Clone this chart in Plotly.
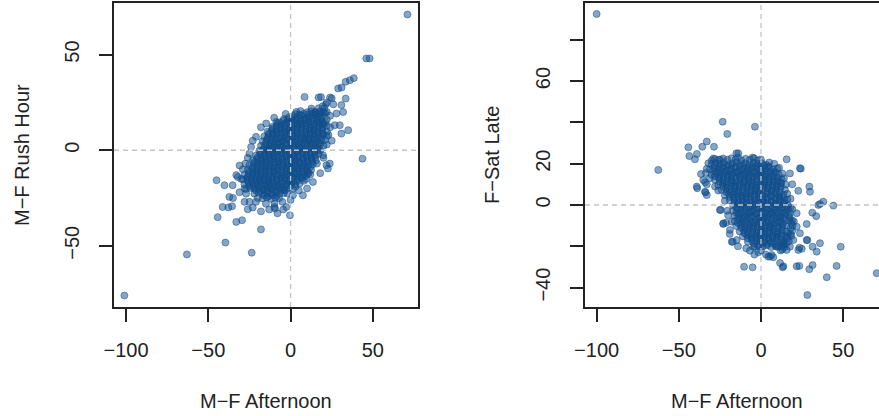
import plotly.graph_objects as go

# values (x = M-F Afternoon for both panels)
# left panel: y = M-F Rush Hour, dense blob read row by row
left_core_x = [
    10, 12.6, 15.1, 17.5, 20,
    -1, 1.6, 4.1, 6.5, 9.1, 11.6, 14.2, 16.7, 19.3,
    -7, -4.4, -1.9, 0.7, 3.2, 5.8, 8.3, 10.9, 13.4, 16, 18.5, 21,
    -11, -8.4, -5.9, -3.3, -0.8, 1.8, 4.3, 6.9, 9.4, 12, 14.5, 17.1, 19.6, 22,
    -14, -11.4, -8.9, -6.3, -3.8, -1.2, 1.3, 3.9, 6.4, 9, 11.5, 14.1, 16.6, 19.2, 22,
    -16, -13.4, -10.9, -8.3, -5.8, -3.2, -0.7, 1.9, 4.4, 7, 9.5, 12.1, 14.6, 17.2, 19.7, 22,
    -17, -14.4, -11.9, -9.3, -6.8, -4.2, -1.7, 0.9, 3.4, 6, 8.5, 11.1, 13.6, 16.2, 18.7, 21,
    -18, -15.4, -12.9, -10.3, -7.8, -5.2, -2.7, -0.1, 2.4, 5, 7.5, 10.1, 12.6, 15.2, 17.7, 20,
    -19, -16.4, -13.9, -11.3, -8.8, -6.2, -3.7, -1.1, 1.4, 4, 6.5, 9.1, 11.6, 14.2, 16.7, 18,
    -21, -18.4, -15.9, -13.3, -10.8, -8.2, -5.7, -3.1, -0.6, 2, 4.5, 7.1, 9.6, 12.2, 14.7, 17,
    -23, -20.4, -17.9, -15.3, -12.8, -10.2, -7.7, -5.1, -2.6, 0, 2.5, 5.1, 7.6, 10.2, 12.7, 15.3,
    -25, -22.4, -19.9, -17.3, -14.8, -12.2, -9.7, -7.1, -4.6, -2, 0.5, 3.1, 5.6, 8.2, 10.7, 13.5,
    -26, -23.4, -20.9, -18.3, -15.8, -13.2, -10.7, -8.1, -5.6, -3, -0.5, 2.1, 4.6, 7.2, 9.7, 12.5,
    -28, -25.4, -22.9, -20.3, -17.8, -15.2, -12.7, -10.1, -7.6, -5, -2.5, 0.1, 2.6, 5.2, 7.7, 10.3, 12,
    -29, -26.4, -23.9, -21.3, -18.8, -16.2, -13.7, -11.1, -8.6, -6, -3.5, -0.9, 1.6, 4.2, 6.7, 9.5,
    -28, -25.4, -22.9, -20.3, -17.8, -15.2, -12.7, -10.1, -7.6, -5, -2.5, 0.1, 2.6, 5.5,
    -27, -24.4, -21.9, -19.3, -16.8, -14.2, -11.7, -9.1, -6.6, -4, -1.5, 1.5,
    -22, -19.4, -16.9, -14.3, -11.8, -9.2, -6.7, -4.1, -2,
    -17, -14.4, -11.9, -9.3, -7,
]
left_core_y = [
    19.8, 20.4, 19.6, 20.2, 19.9,
    17.2, 17.9, 17.4, 18.1, 17, 17.6, 18.2, 17.3, 17.8,
    14.6, 15.4, 14.9, 15.6, 14.5, 15.1, 15.7, 14.8, 15.2, 14.6, 15.5, 14.9,
    12.2, 12.9, 12.4, 13.1, 12, 12.7, 13.2, 12.3, 12.8, 12.1, 12.6, 13, 12.3, 12.8,
    9.7, 10.4, 9.9, 10.6, 9.5, 10.2, 10.7, 9.8, 10.3, 9.6, 10.1, 10.5, 9.7, 10.2, 9.6,
    7.2, 7.9, 7.4, 8.1, 7, 7.6, 8.2, 7.3, 7.8, 7.1, 7.7, 8, 7.2, 7.6, 8.1, 7.4,
    4.7, 5.3, 4.9, 5.6, 4.5, 5.1, 5.7, 4.8, 5.2, 4.6, 5.5, 4.9, 5.4, 4.7, 5.1, 5.4,
    2.3, 2.9, 2.1, 2.7, 3, 2.2, 2.6, 3.1, 2.4, 2.8, 2, 2.6, 3, 2.2, 2.7, 2.4,
    -0.3, 0.4, -0.1, 0.6, -0.5, 0.2, 0.7, -0.2, 0.3, -0.4, 0.5, 0, 0.6, -0.3, 0.2, -0.1,
    -2.8, -2.1, -2.6, -1.9, -3, -2.3, -1.8, -2.7, -2.2, -3.1, -2.4, -1.9, -2.8, -2.2, -2.6, -2,
    -5.2, -4.6, -5.5, -4.8, -5.1, -4.4, -5.6, -4.9, -5.3, -4.5, -5, -5.7, -4.7, -5.2, -4.6, -5.4,
    -7.8, -7.1, -7.6, -7, -8.1, -7.4, -7.9, -7.2, -7.7, -8, -7.3, -7.8, -7.1, -7.6, -8, -7.4,
    -10.2, -9.6, -10.5, -9.8, -10.1, -9.5, -10.6, -9.9, -10.3, -9.7, -10.4, -9.8, -10.2, -9.6, -10.1, -10.3,
    -12.8, -12.2, -12.6, -12, -13, -12.4, -12.9, -12.1, -12.7, -13.1, -12.3, -12.8, -12.2, -12.6, -12.9, -12.3, -12.7,
    -15.2, -14.6, -15.4, -14.8, -15.1, -14.5, -15.6, -14.9, -15.3, -14.7, -15, -15.4, -14.8, -15.2, -14.6, -15.1,
    -17.8, -17.2, -17.6, -17, -18, -17.3, -17.7, -17.1, -17.9, -17.4, -17.6, -17.2, -17.8, -17.4,
    -20.3, -19.7, -20.1, -19.6, -20.4, -19.8, -20.2, -19.5, -20, -20.3, -19.8, -20.1,
    -22.7, -22.1, -22.9, -22.3, -22.6, -22, -22.8, -22.4, -22.6,
    -25.2, -24.6, -25.4, -24.8, -25.1,
]
# second, staggered layer inside the dense blob
left_inner_x = [
    3, 5.5, 8, 10.5, 13, 15.5, 18,
    -4, -1.5, 1, 3.5, 6, 8.5, 11, 13.5, 16, 18.5,
    -8, -5.5, -3, -0.5, 2, 4.5, 7, 9.5, 12, 14.5, 17, 19.5,
    -11, -8.5, -6, -3.5, -1, 1.5, 4, 6.5, 9, 11.5, 14, 16.5, 19,
    -13, -10.5, -8, -5.5, -3, -0.5, 2, 4.5, 7, 9.5, 12, 14.5, 17, 19.5,
    -14, -11.5, -9, -6.5, -4, -1.5, 1, 3.5, 6, 8.5, 11, 13.5, 16, 18.5,
    -15, -12.5, -10, -7.5, -5, -2.5, 0, 2.5, 5, 7.5, 10, 12.5, 15, 17.5,
    -16, -13.5, -11, -8.5, -6, -3.5, -1, 1.5, 4, 6.5, 9, 11.5, 14, 16.5,
    -18, -15.5, -13, -10.5, -8, -5.5, -3, -0.5, 2, 4.5, 7, 9.5, 12, 14.5,
    -20, -17.5, -15, -12.5, -10, -7.5, -5, -2.5, 0, 2.5, 5, 7.5, 10, 12.5, 15,
    -22, -19.5, -17, -14.5, -12, -9.5, -7, -4.5, -2, 0.5, 3, 5.5, 8, 10.5, 13,
    -23, -20.5, -18, -15.5, -13, -10.5, -8, -5.5, -3, -0.5, 2, 4.5, 7, 9.5, 12,
    -25, -22.5, -20, -17.5, -15, -12.5, -10, -7.5, -5, -2.5, 0, 2.5, 5, 7.5, 10,
    -26, -23.5, -21, -18.5, -16, -13.5, -11, -8.5, -6, -3.5, -1, 1.5, 4, 6.5, 9,
    -26, -23.5, -21, -18.5, -16, -13.5, -11, -8.5, -6, -3.5, -1, 1.5, 4,
    -25, -22.5, -20, -17.5, -15, -12.5, -10, -7.5, -5, -2.5, 0,
    -21, -18.5, -16, -13.5, -11, -8.5, -6, -3.5,
    -16, -13.5, -11, -8.5,
]
left_inner_y = [
    18.9, 18.5, 19.1, 18.7, 19.2, 18.6, 18.9,
    16.3, 15.9, 16.5, 16.1, 16.4, 15.8, 16.2, 16.6, 16, 16.3,
    13.9, 13.5, 14.1, 13.7, 14.2, 13.6, 13.9, 14, 13.4, 13.8, 14.1, 13.6,
    11.3, 10.9, 11.5, 11.1, 11.4, 10.8, 11.2, 11.6, 11, 11.3, 10.9, 11.5, 11.1,
    8.9, 8.5, 9.1, 8.7, 9.2, 8.6, 8.9, 9, 8.4, 8.8, 9.1, 8.6, 8.9, 8.7,
    6.3, 5.9, 6.5, 6.1, 6.4, 5.8, 6.2, 6.6, 6, 6.3, 5.9, 6.5, 6.1, 6.2,
    3.9, 3.5, 4.1, 3.7, 4.2, 3.6, 3.9, 4, 3.4, 3.8, 4.1, 3.6, 3.9, 3.7,
    1.3, 0.9, 1.5, 1.1, 1.4, 0.8, 1.2, 1.6, 1, 1.3, 0.9, 1.5, 1.1, 1.2,
    -1.1, -1.5, -0.9, -1.3, -0.8, -1.4, -1.1, -1, -1.6, -1.2, -0.9, -1.4, -1.1, -1.3,
    -3.7, -4.1, -3.5, -3.9, -3.4, -4, -3.7, -3.6, -4.2, -3.8, -3.5, -4, -3.7, -3.9, -3.6,
    -6.1, -6.5, -5.9, -6.3, -5.8, -6.4, -6.1, -6, -6.6, -6.2, -5.9, -6.4, -6.1, -6.3, -6,
    -8.7, -9.1, -8.5, -8.9, -8.4, -9, -8.7, -8.6, -9.2, -8.8, -8.5, -9, -8.7, -8.9, -8.6,
    -11.1, -11.5, -10.9, -11.3, -10.8, -11.4, -11.1, -11, -11.6, -11.2, -10.9, -11.4, -11.1, -11.3, -11,
    -13.7, -14.1, -13.5, -13.9, -13.4, -14, -13.7, -13.6, -14.2, -13.8, -13.5, -14, -13.7, -13.9, -13.6,
    -16.1, -16.5, -15.9, -16.3, -15.8, -16.4, -16.1, -16, -16.6, -16.2, -15.9, -16.4, -16.1,
    -18.7, -19.1, -18.5, -18.9, -18.4, -19, -18.7, -18.6, -19.2, -18.8, -18.5,
    -21.1, -21.5, -20.9, -21.3, -20.8, -21.4, -21.1, -21,
    -23.7, -24.1, -23.5, -23.9,
]
left_edge_x = [
    71, 46, 48, 38.4, 36, 33.5, 31, 28.9, 8.5, 17, 18.5, 24, 25, 33.5, 43.7, 35,
    30.9, 29.9, 31.9, 30.9, 27.9, 26.8, 12.6, 3.5, -8.7, -14.8, -21, -24, -25, -27.4,
    -33, -32.1, -45, -40.2, -35.2, -37.2, -41.3, -44.3, -39.6, -63, -23.6, -18, -33, -29.5,
    -26, -0.4, -101, -37.8, -35.6, -27, -25, -21, -9.8, -9.8, -9.5, -2.6, 7.5, 1.4, 13.6,
    22.7, 23.8, 21.8, 19.7, -30, -28, -31, -20, -23, -15, -5, 3, 8, 11, 16, 20, 22, 23,
    24, 22, 19, 15, 6, -3, -10, -18, -23, -26, -29, -31, 17, 22, 26, 20, 25, 18, -35,
    -28, -18, -13, 0, 5, -8, 10, -4.5, 22, 24, 20.5, 21.5, 21, 19.5,
]
left_edge_y = [
    71, 48, 48, 37.7, 36.6, 35.8, 32.8, 32.3, 27.9, 27.6, 27.8, 27.6, 27.2, 27, -4.4, 10.5,
    8.7, 13.1, 20, 23.6, 19.2, 13.1, 21.8, 20, 14.8, 14, 7, 1.7, -1.7, -7,
    -13, -14, -15.7, -18.3, -18.3, -24.4, -29.7, -35, -48.3, -54.5, -53.6, -41.4, -37.5, -36.6,
    -30.9, -34, -76, -29.9, -29.3, -22.7, -27, -27, -28, -29.7, -30.5, -29.7, -23.6, -23.6, -16.6,
    -9.6, -7, -7.9, -2.6, -15, -20, -22, -25, -30, -28, -27, -19, -16, -12, -7, -4, 3, 8,
    12, 16, 20, 20, 20.5, 19, 17, 12, 5, -4, -10, -8, 22, 25, 24, 14, 5, -12, -25,
    -27, -32, -31, -26, -21, -33, -20, -31, 20, 18, 22, 24, 19.5, 23,
]

# right panel: y = F-Sat Late
right_core_x = [
    -12, -9.4, -6.8, -4.3, -1.9,
    -30, -27.5, -24.9, -22.4, -19.8, -17.3, -14.7, -12.2, -9.6, -7.1, -4.5, -2, 0.6, 3.2, 5,
    -31, -28.4, -25.9, -23.3, -20.8, -18.2, -15.7, -13.1, -10.6, -8, -5.5, -2.9, -0.4, 2.2, 4.7, 7.3, 9.8,
    -30, -27.4, -24.9, -22.3, -19.8, -17.2, -14.7, -12.1, -9.6, -7, -4.5, -1.9, 0.6, 3.2, 5.7, 8.3, 10.8, 13,
    -28, -25.4, -22.9, -20.3, -17.8, -15.2, -12.7, -10.1, -7.6, -5, -2.5, 0.1, 2.6, 5.2, 7.7, 10.3, 12.6, 14,
    -26, -23.4, -20.9, -18.3, -15.8, -13.2, -10.7, -8.1, -5.6, -3, -0.5, 2.1, 4.6, 7.2, 9.7, 12.3, 15,
    -24, -21.4, -18.9, -16.3, -13.8, -11.2, -8.7, -6.1, -3.6, -1, 1.5, 4.1, 6.6, 9.2, 11.7, 14.6,
    -22, -19.5, -16.9, -14.4, -11.8, -9.3, -6.7, -4.2, -1.6, 0.9, 3.5, 6, 8.6, 11.1, 13.7, 16,
    -19, -16.4, -13.9, -11.3, -8.8, -6.2, -3.7, -1.1, 1.4, 4, 6.5, 9.1, 11.6, 14.2, 16,
    -17, -14.5, -11.9, -9.4, -6.8, -4.3, -1.7, 0.8, 3.4, 5.9, 8.5, 11, 13.6, 16.4,
    -17, -14.4, -11.9, -9.3, -6.8, -4.2, -1.7, 0.9, 3.4, 6, 8.5, 11.1, 13.6, 16.5,
    -16, -13.5, -10.9, -8.4, -5.8, -3.3, -0.7, 1.8, 4.4, 6.9, 9.5, 12, 14.6, 17,
    -16, -13.4, -10.9, -8.3, -5.8, -3.2, -0.7, 1.9, 4.4, 7, 9.5, 12.1, 14.6, 17,
    -15, -12.5, -9.9, -7.4, -4.8, -2.3, 0.3, 2.8, 5.4, 7.9, 10.5, 13, 15.6,
    -13, -10.4, -7.9, -5.3, -2.8, -0.2, 2.3, 4.9, 7.4, 10, 12.5, 15.3,
    -11, -8.5, -5.9, -3.4, -0.8, 1.7, 4.3, 6.8, 9.4, 11.9, 14.5, 16,
    -8, -5.4, -2.9, -0.3, 2.2, 4.8, 7.3, 9.9, 12.4, 14,
    -4, -1.4, 1.1, 3.7, 6.2, 8.8, 10.5,
]
right_core_y = [
    21.6, 22.4, 21.9, 22.6, 21.7,
    19.6, 20.3, 19.8, 20.5, 19.5, 20.1, 20.7, 19.7, 20.2, 19.6, 20.4, 19.9, 20.2, 19.5, 20.6,
    17.2, 17.9, 17.4, 18.1, 17, 17.6, 18.2, 17.3, 17.8, 17.1, 17.7, 18, 17.2, 17.6, 18.1, 17.3, 17.7,
    14.6, 15.4, 14.9, 15.6, 14.5, 15.1, 15.7, 14.8, 15.2, 14.6, 15.5, 14.9, 15.3, 14.7, 15.1, 15.6, 14.8, 15.2,
    12.2, 12.9, 12.4, 13.1, 12, 12.7, 13.2, 12.3, 12.8, 12.1, 12.6, 13, 12.3, 12.8, 12.2, 12.7, 12.4, 12.9,
    9.7, 10.4, 9.9, 10.6, 9.5, 10.2, 10.7, 9.8, 10.3, 9.6, 10.1, 10.5, 9.7, 10.2, 9.6, 10.4, 9.9,
    7.2, 7.9, 7.4, 8.1, 7, 7.6, 8.2, 7.3, 7.8, 7.1, 7.7, 8, 7.2, 7.6, 8.1, 7.4,
    4.7, 5.3, 4.9, 5.6, 4.5, 5.1, 5.7, 4.8, 5.2, 4.6, 5.5, 4.9, 5.4, 4.7, 5.1, 5.4,
    2.3, 2.9, 2.1, 2.7, 3, 2.2, 2.6, 3.1, 2.4, 2.8, 2, 2.6, 3, 2.2, 2.7,
    -0.3, 0.4, -0.1, 0.6, -0.5, 0.2, 0.7, -0.2, 0.3, -0.4, 0.5, 0, 0.6, -0.3,
    -2.8, -2.1, -2.6, -1.9, -3, -2.3, -1.8, -2.7, -2.2, -3.1, -2.4, -1.9, -2.8, -2.2,
    -5.2, -4.6, -5.5, -4.8, -5.1, -4.4, -5.6, -4.9, -5.3, -4.5, -5, -5.7, -4.7, -5.2,
    -7.8, -7.1, -7.6, -7, -8.1, -7.4, -7.9, -7.2, -7.7, -8, -7.3, -7.8, -7.1, -7.6,
    -10.2, -9.6, -10.5, -9.8, -10.1, -9.5, -10.6, -9.9, -10.3, -9.7, -10.4, -9.8, -10.2,
    -12.8, -12.2, -12.6, -12, -13, -12.4, -12.9, -12.1, -12.7, -13.1, -12.3, -12.8,
    -15.2, -14.6, -15.4, -14.8, -15.1, -14.5, -15.6, -14.9, -15.3, -14.7, -15, -15.4,
    -17.8, -17.2, -17.6, -17, -18, -17.3, -17.7, -17.1, -17.9, -17.4,
    -20.3, -19.7, -20.1, -19.6, -20.4, -19.8, -20.2,
]
right_inner_x = [
    -28, -25.5, -23, -20.5, -18, -15.5, -13, -10.5, -8, -5.5, -3, -0.5, 2, 4.5,
    -29, -26.5, -24, -21.5, -19, -16.5, -14, -11.5, -9, -6.5, -4, -1.5, 1, 3.5, 6, 8.5,
    -28, -25.5, -23, -20.5, -18, -15.5, -13, -10.5, -8, -5.5, -3, -0.5, 2, 4.5, 7, 9.5,
    -25, -22.5, -20, -17.5, -15, -12.5, -10, -7.5, -5, -2.5, 0, 2.5, 5, 7.5, 10, 12,
    -23, -20.5, -18, -15.5, -13, -10.5, -8, -5.5, -3, -0.5, 2, 4.5, 7, 9.5, 12,
    -21, -18.5, -16, -13.5, -11, -8.5, -6, -3.5, -1, 1.5, 4, 6.5, 9, 11.5,
    -19, -16.5, -14, -11.5, -9, -6.5, -4, -1.5, 1, 3.5, 6, 8.5, 11, 13.5,
    -16, -13.5, -11, -8.5, -6, -3.5, -1, 1.5, 4, 6.5, 9, 11.5, 14,
    -15, -12.5, -10, -7.5, -5, -2.5, 0, 2.5, 5, 7.5, 10, 12.5, 15,
    -15, -12.5, -10, -7.5, -5, -2.5, 0, 2.5, 5, 7.5, 10, 12.5, 15,
    -14, -11.5, -9, -6.5, -4, -1.5, 1, 3.5, 6, 8.5, 11, 13.5,
    -14, -11.5, -9, -6.5, -4, -1.5, 1, 3.5, 6, 8.5, 11, 13.5,
    -12, -9.5, -7, -4.5, -2, 0.5, 3, 5.5, 8, 10.5, 13,
    -10, -7.5, -5, -2.5, 0, 2.5, 5, 7.5, 10, 12.5,
    -8, -5.5, -3, -0.5, 2, 4.5, 7, 9.5, 12,
    -4, -1.5, 1, 3.5, 6, 8.5,
]
right_inner_y = [
    18.9, 18.5, 19.1, 18.7, 19.2, 18.6, 18.9, 19, 18.4, 18.8, 19.1, 18.6, 18.9, 18.7,
    16.3, 15.9, 16.5, 16.1, 16.4, 15.8, 16.2, 16.6, 16, 16.3, 15.9, 16.5, 16.1, 16.2, 16.4, 15.9,
    13.9, 13.5, 14.1, 13.7, 14.2, 13.6, 13.9, 14, 13.4, 13.8, 14.1, 13.6, 13.9, 13.7, 14, 13.5,
    11.3, 10.9, 11.5, 11.1, 11.4, 10.8, 11.2, 11.6, 11, 11.3, 10.9, 11.5, 11.1, 11.2, 11.4, 10.9,
    8.9, 8.5, 9.1, 8.7, 9.2, 8.6, 8.9, 9, 8.4, 8.8, 9.1, 8.6, 8.9, 8.7, 9,
    6.3, 5.9, 6.5, 6.1, 6.4, 5.8, 6.2, 6.6, 6, 6.3, 5.9, 6.5, 6.1, 6.2,
    3.9, 3.5, 4.1, 3.7, 4.2, 3.6, 3.9, 4, 3.4, 3.8, 4.1, 3.6, 3.9, 3.7,
    1.3, 0.9, 1.5, 1.1, 1.4, 0.8, 1.2, 1.6, 1, 1.3, 0.9, 1.5, 1.1,
    -1.1, -1.5, -0.9, -1.3, -0.8, -1.4, -1.1, -1, -1.6, -1.2, -0.9, -1.4, -1.1,
    -3.7, -4.1, -3.5, -3.9, -3.4, -4, -3.7, -3.6, -4.2, -3.8, -3.5, -4, -3.7,
    -6.1, -6.5, -5.9, -6.3, -5.8, -6.4, -6.1, -6, -6.6, -6.2, -5.9, -6.4,
    -8.7, -9.1, -8.5, -8.9, -8.4, -9, -8.7, -8.6, -9.2, -8.8, -8.5, -9,
    -11.1, -11.5, -10.9, -11.3, -10.8, -11.4, -11.1, -11, -11.6, -11.2, -10.9,
    -13.7, -14.1, -13.5, -13.9, -13.4, -14, -13.7, -13.6, -14.2, -13.8,
    -16.1, -16.5, -15.9, -16.3, -15.8, -16.4, -16.1, -16, -16.6,
    -18.7, -19.1, -18.5, -18.9, -18.4, -19,
]
right_edge_x = [
    -100, -62.5, -23.3, -3.7, -20.5, -44.2, -33, -28.6, -35.7, -39, -43.6, -40.2, -13.8,
    15.6, 24.2, 29.4, 29.8, 22.7, 35.9, 37.9, 44, 31.2, 33.6, 27.8, 28.2, 31.4, 33.9, 48.5,
    23.4, 24.8, 46, 40, 29.4, 31.4, 23.3, 13.2, 28.2, -10.3, -5.1, 70.4, -17.2, -6.7, -1.6,
    5.5, 7.5, -24.5, -20.5, -23, -21.3, -38.8, -33.7, -33, -34, -33, -36.5, -32, -30, -29,
    17.6, 23.7, 34.9, 21.7, 21.7, 23.7, 19.7, 22.7, 27.8, 35.9, -39.1, -34.1, -35.1, -25,
    -22.9, -17.8, -18.9, -17.8, -14.8, -4.7, 4.4, 6.5, 11.6, 13.6, 21.7, 9.6, 13.6, 15.6,
    17.6, 19, 18, 19, 20, 18, -19, -20, -22, -26, -28, 11, 8, 0, -5, 14, 12, 0, -4, 3,
    -14, -9, -15, -25,
    -28, -25.5, -23, -20.5, -18, -15.5, -14, -33, -33.5, -31, 19, 19.2, 19, 18.5, 17,
    16, 18, 18.5, 17.5, 18, 12.5, 14, 15.5, 13, 16.5, 17.5,
]
right_edge_y = [
    92.5, 17, 40.3, 37.9, 34.4, 27.9, 30.7, 28.2, 28.2, 24.7, 23.7, 22.1, 25,
    22.1, 17.6, 8.9, 6.4, 6.9, 0.5, 1.6, -0.3, -3.7, -5.4, -9.2, -17, -20.2, -22.6, -20.2,
    -20.7, -21.2, -29.5, -35, -31.1, -29.1, -29.5, -30.2, -43.6, -29.9, -30.2, -33, -17.8, -22.1, -22.9,
    -25, -25.3, -2.4, -2.8, -9.2, -8.6, 8.1, 6.1, 4.8, 11, 10, 15, 20.2, 21.5, 22.5,
    15.3, 17.8, 0, -4, -10.5, -13.7, -17, -21.8, -17, -18.5, 8.9, 6.4, 12.1, -2.4,
    -8.9, -8.1, -12.1, -17.8, -17, -20.2, -25, -24.2, -28.1, -29.7, -29.7, -20.2, -18.5, -21.8,
    -20.2, 10, 3, -2, -8, -14, -14, -5, 2, 7, 9, 18, 20, 22, 23, -19, -22, -22, -24, -24,
    -20, -21, 25, 22,
    22.3, 21.8, 22.5, 21.9, 22.6, 22, 23, 17.5, 15.5, 13, -7.5, -10, -12.5, -15, -17.5,
    -16.2, -11.2, -8.8, -4, -1.2, -20, -20.5, -18.8, -21.5, -13.8, -6.2,
]

x_ticks = [-100, -50, 0, 50]
x_tick_text = ["\u2212100", "\u221250", "0", "50"]
left_y_ticks = [-50, 0, 50]
left_y_text = ["\u221250", "0", "50"]
right_y_ticks = [-40, -20, 0, 20, 40, 60, 80]
right_y_text = ["\u221240", "", "0", "20", "", "60", ""]

pt_col = "rgba(16,78,139,0.5)"
ink = "#222222"
font = "Liberation Sans, Arial, sans-serif"

left_x = left_edge_x + left_core_x + left_inner_x
left_y = left_edge_y + left_core_y + left_inner_y
right_x = right_edge_x + right_core_x + right_inner_x
right_y = right_edge_y + right_core_y + right_inner_y
assert len(left_x) == len(left_y) and len(right_x) == len(right_y)

fig = go.Figure()
fig.add_trace(go.Scatter(
    x=left_x, y=left_y, mode="markers", xaxis="x", yaxis="y",
    marker=dict(size=7, color=pt_col, line=dict(color=pt_col, width=1)),
))
fig.add_trace(go.Scatter(
    x=right_x, y=right_y, mode="markers", xaxis="x2", yaxis="y2",
    marker=dict(size=7, color=pt_col, line=dict(color=pt_col, width=1)),
))

axis_common = dict(
    showgrid=False, zeroline=False, showline=True, linecolor=ink, linewidth=1.5,
    ticks="outside", ticklen=13, tickwidth=1.5, tickcolor=ink, automargin=False,
    tickfont=dict(family=font, size=20, color=ink),
)

fig.update_layout(
    template="none",
    width=879, height=416, autosize=False,
    margin=dict(l=0, r=0, t=0, b=0, pad=0),
    paper_bgcolor="white", plot_bgcolor="white",
    showlegend=False,
    xaxis=dict(domain=[0.1297, 0.4755], range=[-107.3, 77.4], anchor="y", mirror=True,
               tickvals=x_ticks, ticktext=x_tick_text, ticklabelstandoff=11, **axis_common),
    yaxis=dict(domain=[0.262, 0.9928], range=[-82, 77], anchor="x", mirror=True,
               tickvals=left_y_ticks, ticktext=left_y_text, tickangle=-90,
               ticklabelstandoff=12, **axis_common),
    xaxis2=dict(domain=[0.6655, 1.0], range=[-107.1, 71.8], anchor="y2", mirror=True,
                tickvals=x_ticks, ticktext=x_tick_text, ticklabelstandoff=11, **axis_common),
    yaxis2=dict(domain=[0.262, 0.9928], range=[-49.4, 97.8], anchor="x2", mirror=False,
                tickvals=right_y_ticks, ticktext=right_y_text, tickangle=-90,
                ticklabelstandoff=12, **axis_common),
)

# dashed reference lines through zero, drawn over the points
for xr, yr in [("x", "y"), ("x2", "y2")]:
    dash = dict(color="#c4c4c4", width=1.3, dash="5px,4px")
    fig.add_shape(type="line", xref=xr, yref=yr + " domain", x0=0, x1=0, y0=0, y1=1,
                  line=dash, layer="above")
    fig.add_shape(type="line", xref=xr + " domain", yref=yr, x0=0, x1=1, y0=0, y1=0,
                  line=dash, layer="above")

title_font = dict(family=font, size=20, color=ink)
fig.add_annotation(text="M\u2212F Afternoon", x=266 / 879, y=1 - 401 / 416, xref="paper", yref="paper",
                   showarrow=False, font=title_font, xanchor="center", yanchor="middle")
fig.add_annotation(text="M\u2212F Afternoon", x=736.5 / 879, y=1 - 401 / 416, xref="paper", yref="paper",
                   showarrow=False, font=title_font, xanchor="center", yanchor="middle")
fig.add_annotation(text="M\u2212F Rush Hour", x=22 / 879, y=1 - 155 / 416, xref="paper", yref="paper",
                   showarrow=False, font=title_font, textangle=-90, xanchor="center", yanchor="middle")
fig.add_annotation(text="F\u2212Sat Late", x=492 / 879, y=1 - 155 / 416, xref="paper", yref="paper",
                   showarrow=False, font=title_font, textangle=-90, xanchor="center", yanchor="middle")

fig.write_html("out.html", config={"displayModeBar": False},
               post_script="document.body.style.margin = '0';")
